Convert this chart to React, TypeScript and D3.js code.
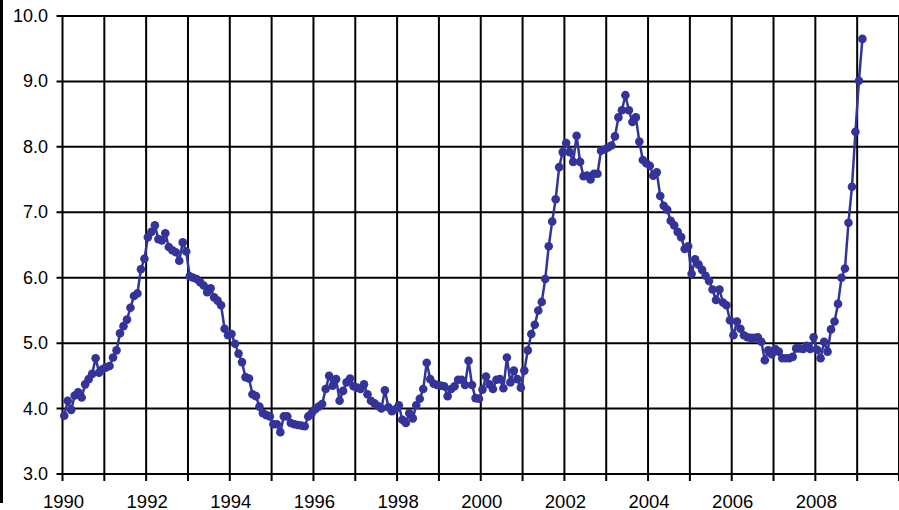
import React from "react";
import * as d3 from "d3";

const startYear = 1990;
const v1990 = [3.89, 4.12, 3.98, 4.2, 4.25, 4.17, 4.37, 4.45, 4.53, 4.77, 4.55, 4.6];
const v1991 = [4.63, 4.65, 4.78, 4.89, 5.15, 5.26, 5.36, 5.54, 5.72, 5.76, 6.13, 6.29];
const v1992 = [6.62, 6.7, 6.8, 6.59, 6.57, 6.68, 6.47, 6.42, 6.39, 6.26, 6.54, 6.4];
const v1993 = [6.02, 6.0, 5.98, 5.93, 5.88, 5.78, 5.84, 5.7, 5.65, 5.58, 5.22, 5.12];
const v1994 = [5.14, 4.99, 4.84, 4.71, 4.48, 4.46, 4.22, 4.19, 4.03, 3.93, 3.9, 3.88];
const v1995 = [3.76, 3.76, 3.64, 3.88, 3.88, 3.78, 3.76, 3.75, 3.74, 3.73, 3.88, 3.93];
const v1996 = [3.99, 4.03, 4.07, 4.3, 4.5, 4.35, 4.45, 4.12, 4.27, 4.4, 4.46, 4.34];
const v1997 = [4.32, 4.3, 4.37, 4.22, 4.12, 4.08, 4.04, 4.0, 4.28, 4.02, 3.96, 3.99];
const v1998 = [4.05, 3.83, 3.78, 3.93, 3.85, 4.05, 4.15, 4.3, 4.7, 4.45, 4.38, 4.36];
const v1999 = [4.35, 4.34, 4.19, 4.3, 4.34, 4.44, 4.44, 4.36, 4.73, 4.36, 4.16, 4.15];
const v2000 = [4.29, 4.49, 4.37, 4.3, 4.44, 4.45, 4.31, 4.78, 4.4, 4.58, 4.45, 4.32];
const v2001 = [4.58, 4.89, 5.14, 5.28, 5.5, 5.63, 5.98, 6.48, 6.86, 7.2, 7.69, 7.92];
const v2002 = [8.06, 7.92, 7.77, 8.17, 7.77, 7.55, 7.56, 7.5, 7.59, 7.59, 7.94, 7.96];
const v2003 = [7.99, 8.02, 8.16, 8.45, 8.56, 8.79, 8.56, 8.38, 8.45, 8.08, 7.8, 7.75];
const v2004 = [7.71, 7.56, 7.61, 7.25, 7.1, 7.04, 6.87, 6.8, 6.7, 6.62, 6.44, 6.48];
const v2005 = [6.06, 6.28, 6.2, 6.12, 6.03, 5.95, 5.82, 5.66, 5.82, 5.62, 5.58, 5.35];
const v2006 = [5.12, 5.33, 5.22, 5.12, 5.09, 5.08, 5.08, 5.09, 5.02, 4.74, 4.89, 4.83];
const v2007 = [4.91, 4.87, 4.77, 4.77, 4.77, 4.79, 4.92, 4.92, 4.91, 4.96, 4.91, 5.09];
const v2008 = [4.9, 4.77, 5.02, 4.87, 5.21, 5.33, 5.6, 6.0, 6.14, 6.84, 7.39, 8.23];
const v2009 = [9.01, 9.65];

const yearlyValues = [
  v1990, v1991, v1992, v1993, v1994, v1995, v1996, v1997, v1998, v1999,
  v2000, v2001, v2002, v2003, v2004, v2005, v2006, v2007, v2008, v2009,
];

const yTicks = [3, 4, 5, 6, 7, 8, 9, 10];
const xLabelYears = [1990, 1992, 1994, 1996, 1998, 2000, 2002, 2004, 2006, 2008];
const gridYears = d3.range(1990, 2011);

const W = 899;
const H = 510;
const COLOR = "#333399";
const FONT = "'Liberation Sans', Arial, sans-serif";

export default function App() {
  const x = d3.scaleLinear().domain([1990, 2010]).range([62.5, 899]);
  const y = d3.scaleLinear().domain([3, 10]).range([474, 16]);

  const data: { t: number; v: number }[] = [];
  yearlyValues.forEach((arr, yi) => {
    arr.forEach((v, m) => {
      data.push({ t: startYear + yi + (m + 0.5) / 12, v });
    });
  });

  const line = d3
    .line<{ t: number; v: number }>()
    .x((d) => x(d.t))
    .y((d) => y(d.v));

  return (
    <svg
      width={W}
      height={H}
      style={{ position: "absolute", left: 0, top: 0, background: "#fff" }}
    >
      <rect x={0} y={0} width={W} height={H} fill="#fff" />
      <rect x={0} y={0} width={3} height={503} fill="#000" />
      {gridYears.map((yr) => (
        <line
          key={"v" + yr}
          x1={x(yr)}
          x2={x(yr)}
          y1={y(10)}
          y2={y(3) + 7}
          stroke="#000"
          strokeWidth={2}
        />
      ))}
      {yTicks.map((t) => (
        <line
          key={"h" + t}
          x1={x(1990) - 6}
          x2={W}
          y1={y(t)}
          y2={y(t)}
          stroke="#000"
          strokeWidth={2}
        />
      ))}
      {yTicks.map((t) => (
        <text
          key={"yl" + t}
          x={48}
          y={y(t)}
          textAnchor="end"
          dominantBaseline="central"
          fontFamily={FONT}
          fontSize={18}
          fill="#000"
        >
          {t.toFixed(1)}
        </text>
      ))}
      {xLabelYears.map((yr) => (
        <text
          key={"xl" + yr}
          x={x(yr) + 1}
          y={507.5}
          textAnchor="middle"
          fontFamily={FONT}
          fontSize={18.5}
          fill="#000"
        >
          {yr}
        </text>
      ))}
      <path d={line(data) || ""} fill="none" stroke={COLOR} strokeWidth={2.5} />
      {data.map((d, i) => (
        <circle key={i} cx={x(d.t)} cy={y(d.v)} r={4.3} fill={COLOR} />
      ))}
    </svg>
  );
}
